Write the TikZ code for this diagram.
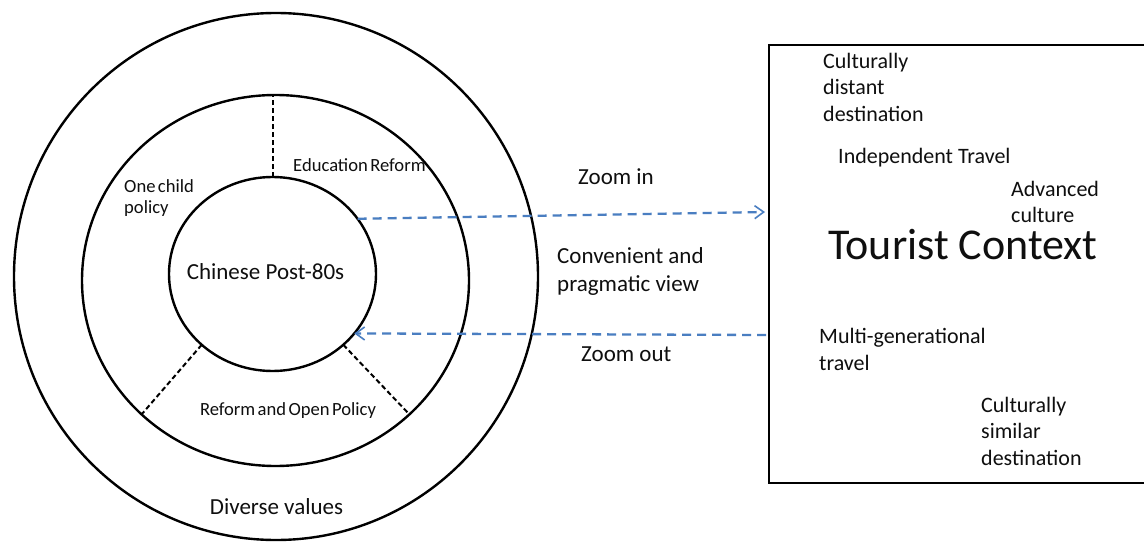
\documentclass[tikz,border=0pt]{standalone}
\usepackage{fontspec}
\setmainfont{Carlito}
\usetikzlibrary{shapes.geometric,arrows.meta}
\definecolor{zoomblue}{RGB}{74,126,193}
\definecolor{txt}{RGB}{15,15,15}
\newcommand{\smallfontsetup}{\fontsize{18.6}{21}\selectfont\spaceskip=2.4pt plus 1pt\relax}
\begin{document}
\begin{tikzpicture}[x=1pt,y=-1pt,
  ring/.style={draw=black, line width=2.4pt, ellipse, inner sep=0pt, outer sep=0pt},
  divider/.style={draw=black, line width=2pt, dash pattern=on 5pt off 3pt},
  zoomarrow/.style={draw=zoomblue, line width=2.3pt, dash pattern=on 9pt off 6pt,
    -{Straight Barb[length=9pt,width=13pt,line width=1.6pt]}},
  smalllabel/.style={text=txt, font=\smallfontsetup, inner sep=0pt, align=left},
  midlabel/.style={text=txt, font=\fontsize{23}{28}\selectfont, inner sep=0pt, align=left},
  ctxlabel/.style={text=txt, font=\fontsize{22}{26.5}\selectfont, inner sep=0pt, align=left, anchor=west},
]
\clip (0,0) rectangle (1144,543);
\fill[white] (0,0) rectangle (1144,543);

% rings
\node[ring, minimum width=524pt, minimum height=527pt] (outer) at (276,276.5) {};
\node[ring, minimum width=387pt, minimum height=371pt] (middle) at (275.5,280.5) {};
\node[ring, minimum width=207pt, minimum height=194pt] (inner) at (272.5,274) {};

% dividers
\draw[divider] (inner.north) -- (inner.north |- middle.north);
\draw[divider] (inner.225) -- (middle.225);
\draw[divider] (inner.-45) -- (middle.-45);

% tourist context box
\node[draw=black, line width=2.8pt, minimum width=384pt, minimum height=438pt,
      inner sep=0pt, outer sep=0pt] (ctx) at (961,264) {};

% zoom arrows
\coordinate (zinEnd) at (765,212);
\coordinate (zoutStart) at (766,335);
\draw[zoomarrow] (inner.33) -- (zinEnd);
\draw[zoomarrow] (zoutStart) -- (inner.-36);

% circle labels
\node[smalllabel, anchor=west] (onechild) at (124,198) {One child\\policy};
\node[smalllabel, anchor=west] (edu) at (293,165) {Education Reform};
\node[smalllabel] (reform) at (288,411) {Reform and Open Policy};
\node[midlabel] (post80) at (265.5,272) {Chinese Post-80s};
\node[midlabel] (diverse) at (276.5,507) {Diverse values};

% middle labels
\node[midlabel, anchor=west] (zin) at (578,177) {Zoom in};
\node[midlabel, anchor=west] (conv) at (557,271) {Convenient and\\pragmatic view};
\node[midlabel, anchor=west] (zout) at (581,354) {Zoom out};

% context labels
\node[ctxlabel] (distant) at (823,87) {Culturally\\distant\\destination};
\node[ctxlabel] (indep) at (838,158) {Independent Travel};
\node[ctxlabel] (adv) at (1011,202) {Advanced\\culture};
\node[text=txt, font=\fontsize{44}{50}\selectfont, inner sep=0pt, anchor=west] (tc) at (828,245) {Tourist Context};
\node[ctxlabel] (multi) at (819,349.5) {Multi-generational\\travel};
\node[ctxlabel] (similar) at (981,431) {Culturally\\similar\\destination};
\end{tikzpicture}
\end{document}
